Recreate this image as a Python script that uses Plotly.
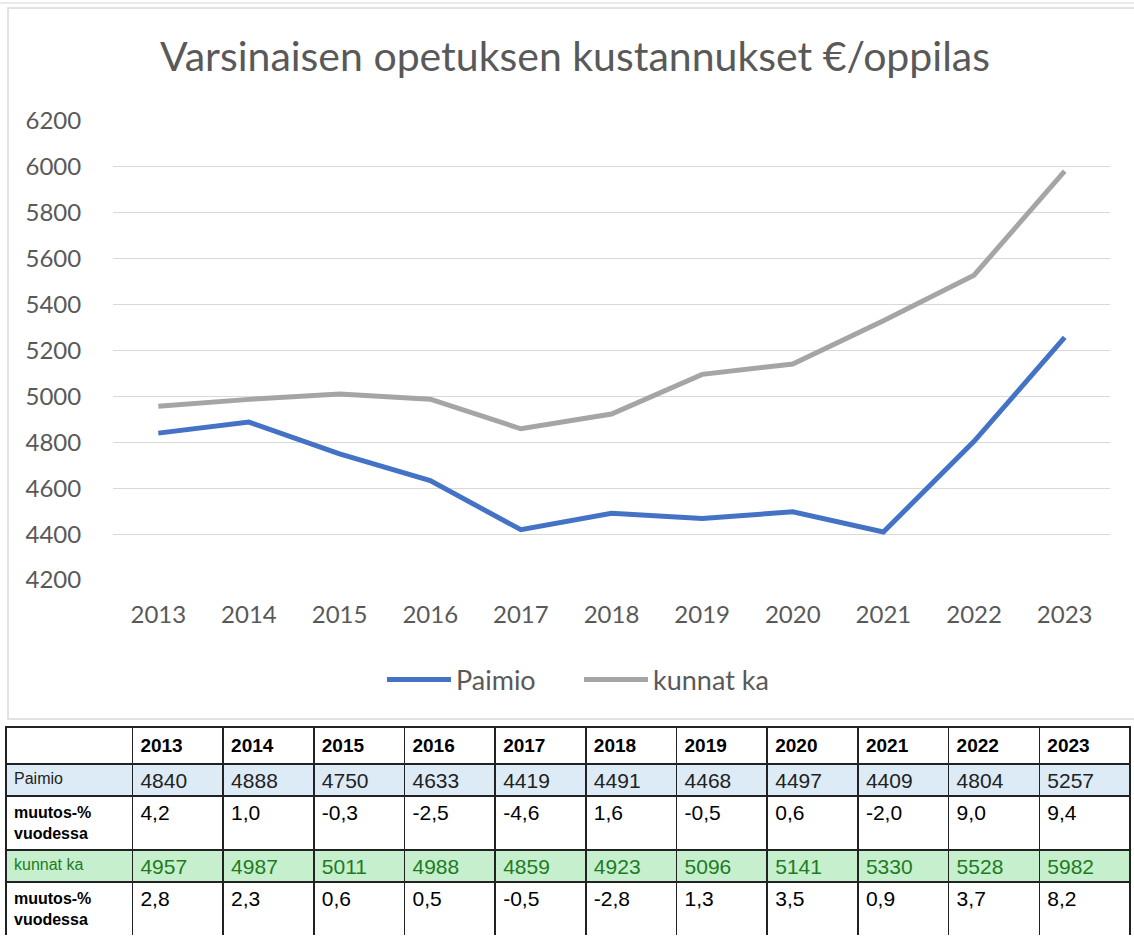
import plotly.graph_objects as go

years = [2013, 2014, 2015, 2016, 2017, 2018, 2019, 2020, 2021, 2022, 2023]
paimio = [4840, 4888, 4750, 4633, 4419, 4491, 4468, 4497, 4409, 4804, 5257]
paimio_change = ["4,2", "1,0", "-0,3", "-2,5", "-4,6", "1,6", "-0,5", "0,6", "-2,0", "9,0", "9,4"]
kunnat = [4957, 4987, 5011, 4988, 4859, 4923, 5096, 5141, 5330, 5528, 5982]
kunnat_change = ["2,8", "2,3", "0,6", "0,5", "-0,5", "-2,8", "1,3", "3,5", "0,9", "3,7", "8,2"]
y_ticks = [4200, 4400, 4600, 4800, 5000, 5200, 5400, 5600, 5800, 6000, 6200]
title_text = "Varsinaisen opetuksen kustannukset €/oppilas"
row_labels = ["Paimio", "<b>muutos-%<br>vuodessa</b>", "kunnat ka", "<b>muutos-%<br>vuodessa</b>"]

W, H = 1134, 936
def px(x):
    return x / W
def py(y):
    return 1 - y / H

FONT = "Lato"
GREY_TXT = "#595959"
TFONT = "Liberation Sans, Arial"

fig = go.Figure()
fig.add_trace(go.Scatter(x=years, y=paimio, name="Paimio", mode="lines",
                         line=dict(color="#4472C4", width=5), hoverinfo="skip"))
fig.add_trace(go.Scatter(x=years, y=kunnat, name="kunnat ka", mode="lines",
                         line=dict(color="#A5A5A5", width=5), hoverinfo="skip"))

# table
header_vals = [""] + ["<b>%d</b>" % y for y in years]
cols = [row_labels]
for i in range(len(years)):
    cols.append([str(paimio[i]), paimio_change[i], str(kunnat[i]), kunnat_change[i]])
row_fill = ["#DDEBF7", "white", "#C6EFCE", "white"]
row_font = ["#222222", "#000000", "#1E7B1E", "#000000"]
fig.add_trace(go.Table(
    domain=dict(x=[px(6), px(1130)], y=[0, py(727)]),
    columnwidth=[126] + [90.4] * len(years),
    header=dict(values=header_vals, align="left", height=34,
                fill_color="white", line=dict(color="#222222", width=1.5),
                font=dict(family=TFONT, size=19, color="black")),
    cells=dict(values=cols, align="left", height=32,
               fill_color=[row_fill] * (len(years) + 1),
               line=dict(color="#222222", width=1.5),
               font=dict(family=TFONT,
                         size=[16] + [21] * len(years),
                         color=[row_font] * (len(years) + 1))),
))

fig.update_layout(
    width=W, height=H,
    margin=dict(l=0, r=0, t=0, b=0, autoexpand=False),
    paper_bgcolor="white", plot_bgcolor="white",
    title=dict(text=title_text, x=px(575), y=py(57), xanchor="center", yanchor="middle",
               font=dict(family=FONT, size=41, color=GREY_TXT)),
    xaxis=dict(domain=[px(113), px(1110)], range=[2012.5, 2023.5], automargin=False,
               tickvals=years, ticktext=[str(y) for y in years],
               showgrid=False, zeroline=False, showline=False,
               ticks="outside", ticklen=13, tickcolor="rgba(0,0,0,0)",
               tickfont=dict(family=FONT, size=24, color=GREY_TXT)),
    yaxis=dict(domain=[py(580), py(121)], range=[4200, 6200], automargin=False,
               tickvals=y_ticks, showgrid=True, gridcolor="#D9D9D9", gridwidth=1,
               zeroline=False, showline=False,
               ticks="outside", ticklen=26, tickcolor="rgba(0,0,0,0)",
               tickfont=dict(family=FONT, size=24, color=GREY_TXT)),
    legend=dict(orientation="h", x=px(579), y=py(680), xanchor="center", yanchor="middle",
                itemwidth=64, entrywidth=118, font=dict(family=FONT, size=27, color=GREY_TXT),
                bgcolor="rgba(0,0,0,0)"),
    showlegend=True,
)

# chart frame and spreadsheet edge
fig.add_shape(type="rect", xref="paper", yref="paper",
              x0=px(8), x1=px(1140), y0=py(719), y1=py(8),
              line=dict(color="#D9D9D9", width=1.5), fillcolor="rgba(0,0,0,0)", layer="below")
fig.add_shape(type="line", xref="paper", yref="paper",
              x0=0, x1=1, y0=py(3), y1=py(3), line=dict(color="#E3E3E3", width=1.5))

fig.write_html("out.html")
